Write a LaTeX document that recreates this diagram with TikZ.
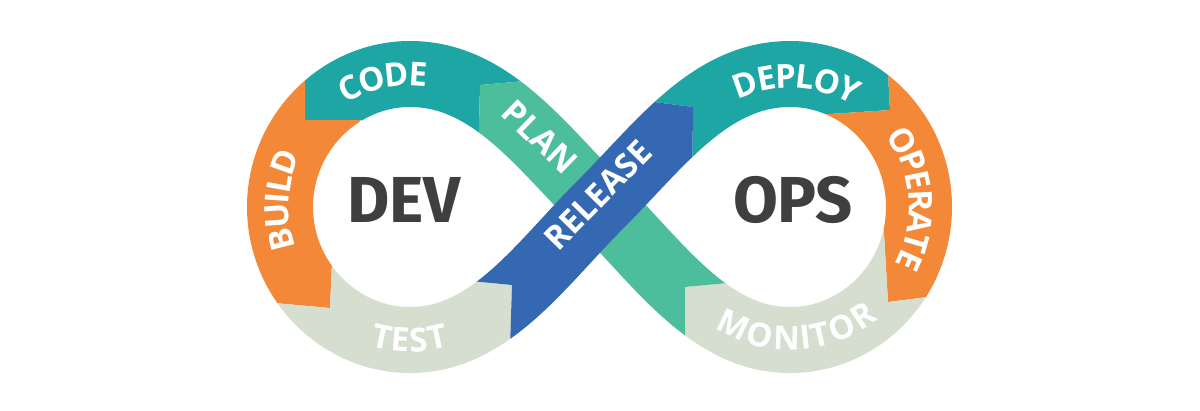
\documentclass[tikz,border=0pt]{standalone}
\usepackage{fontspec}
\usetikzlibrary{decorations.text}
\newfontfamily\lblfont{Open Sans}
\newfontfamily\bigfont{Fira Sans}
\definecolor{cteal}{HTML}{1DA6A4}
\definecolor{corange}{HTML}{F38938}
\definecolor{cgray}{HTML}{D6DECF}
\definecolor{cgreen}{HTML}{4DBE9B}
\definecolor{cblue}{HTML}{3468B2}
\definecolor{cdark}{HTML}{3F3F3F}
\begin{document}
\begin{tikzpicture}[x=1pt,y=-1pt,
  band/.style={line width=66pt,line cap=butt,line join=round},
  curved/.style={decorate,decoration={text along path,text align=center,text color=white,raise=-11.8pt,
     text={|\lblfont\bfseries\fontsize{33}{33}\selectfont|#1}}},
  straightlbl/.style={text=white,inner sep=0pt,font=\lblfont\bfseries\fontsize{33}{33}\selectfont},
  biglbl/.style={text=cdark,inner sep=0pt,font=\bigfont\bfseries\fontsize{65}{65}\selectfont}]
\useasboundingbox (0,0) rectangle (1200,410);
\fill[white] (0,0) rectangle (1200,410);
\coordinate (C) at (600,205);
\coordinate (TR) at (790,74);
\coordinate (R) at (919,207);
\coordinate (BR) at (790,340);
\coordinate (TL) at (410,74);
\coordinate (L) at (280,207);
\coordinate (BL) at (410,340);
% CODE
\begin{scope}
\clip (305,0) -- (305,120) -- (360,120) -- (478,170) -- (480,85) -- (560,78) -- (560,0) -- cycle;
\draw[band,cteal] (C) .. controls (540,145) and (490,74) .. (TL) .. controls (339,74) and (280,134) .. (L);
\end{scope}
% BUILD
\begin{scope}
\clip (0,0) -- (305,0) -- (305,120) -- (360,120) -- (333,240) -- (330,308) -- (230,299) -- (0,299) -- cycle;
\draw[band,corange] (TL) .. controls (339,74) and (280,134) .. (L) .. controls (280,280) and (339,340) .. (BL);
\end{scope}
% TEST
\begin{scope}
\clip (0,299) -- (230,299) -- (330,308) -- (333,240) -- (440,250) -- (440,278) -- (512,285) -- (508,410) -- (0,410) -- cycle;
\draw[band,cgray] (L) .. controls (280,280) and (339,340) .. (BL) .. controls (490,340) and (540,265) .. (C);
\end{scope}
% DEPLOY
\begin{scope}
\clip (600,0) -- (600,95) -- (693,107) -- (692,200) -- (800,200) -- (800,116) -- (890,110) -- (884,0) -- cycle;
\draw[band,cteal] (C) .. controls (660,145) and (710,74) .. (TR) .. controls (861,74) and (919,134) .. (R);
\end{scope}
% OPERATE
\begin{scope}
\clip (884,0) -- (890,110) -- (800,116) -- (800,200) -- (882,200) -- (888,302) -- (1000,288) -- (1200,288) -- (1200,0) -- cycle;
\draw[band,corange] (TR) .. controls (861,74) and (919,134) .. (R) .. controls (919,280) and (861,340) .. (BR);
\end{scope}
% MONITOR
\begin{scope}
\clip (800,200) -- (882,200) -- (888,302) -- (1000,288) -- (1200,288) -- (1200,410) -- (685,410) -- (685,287) -- (760,280) -- cycle;
\draw[band,cgray] (R) .. controls (919,280) and (861,340) .. (BR) .. controls (710,340) and (660,265) .. (C);
\end{scope}
% PLAN
\begin{scope}
\clip (478,170) -- (480,85) -- (560,78) -- (760,78) -- (760,280) -- (685,287) -- (685,410) -- (478,410) -- cycle;
\draw[band,cgreen] (BR) .. controls (710,340) and (660,265) .. (C) .. controls (540,145) and (490,74) .. (TL);
\end{scope}
% RELEASE
\begin{scope}
\clip (440,278) -- (512,285) -- (508,410) -- (560,410) -- (692,200) -- (693,107) -- (600,95) -- cycle;
\draw[band,cblue] (BL) .. controls (490,340) and (540,265) .. (C) .. controls (660,145) and (710,74) .. (TR);
\end{scope}
% labels
\path[curved=CODE] (305.2,125.1) arc[start angle=-142,end angle=-62,radius=133];
\path[curved=BUILD] (303.8,287.0) arc[start angle=143,end angle=223,radius=133];
\path[curved=TEST] (328.1,311.8) arc[start angle=128,end angle=52,radius=133];
\path[curved=DEPLOY] (711.2,102.4) arc[start angle=-127,end angle=-47,radius=131];
\path[curved=OPERATE] (884.2,116.0) arc[start angle=-44,end angle=36,radius=131];
\path[curved=MONITOR] (702.3,304.3) arc[start angle=132,end angle=42,radius=131];
\node[straightlbl,rotate=-44] (plan) at (540,137) {PLAN};
\node[straightlbl,rotate=45.5] (release) at (598,195) {RELEASE};
\node[biglbl] (dev) at (404,200) {DEV};
\node[biglbl] (ops) at (793,200) {OPS};
\end{tikzpicture}
\end{document}
